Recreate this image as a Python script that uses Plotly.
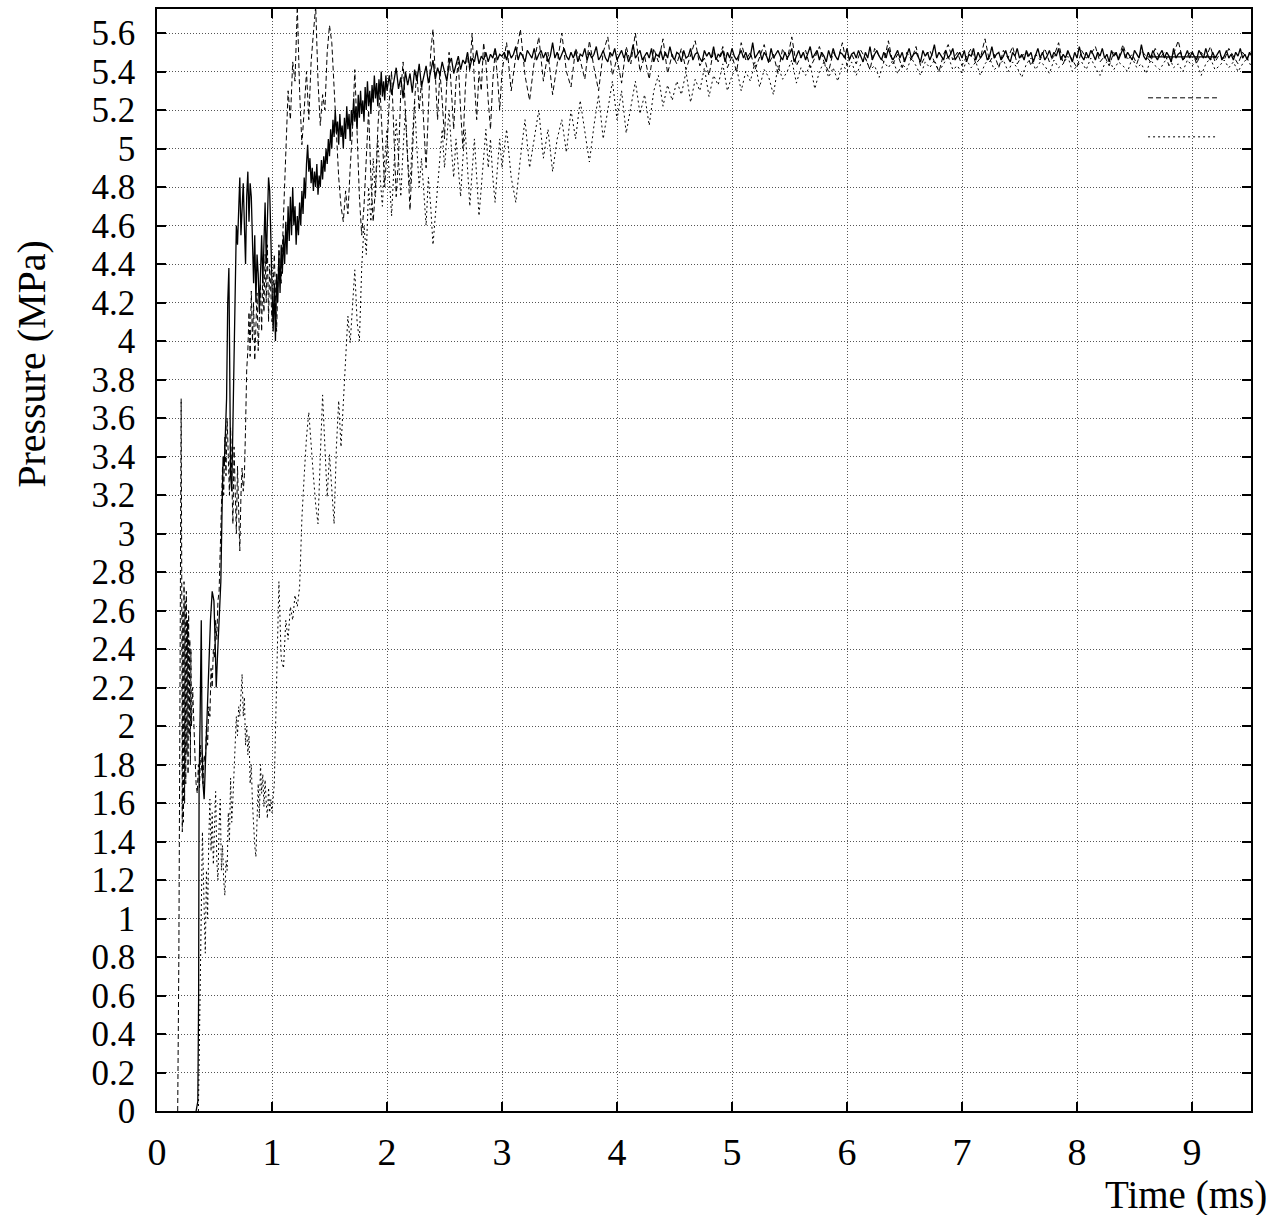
import numpy as np
import plotly.graph_objects as go

# ---------------- data (time in ms, pressure in MPa) ----------------
solid_t_early = [0.34, 0.355, 0.362, 0.366, 0.375, 0.385, 0.392, 0.40, 0.41, 0.42, 0.435, 0.45, 0.465,
                 0.48, 0.495, 0.505, 0.515, 0.525, 0.54, 0.555, 0.565, 0.575, 0.585, 0.595, 0.605,
                 0.615, 0.625, 0.632, 0.64, 0.65, 0.66, 0.67, 0.68, 0.69]
solid_p_early = [0.00, 0.05, 0.60, 1.70, 2.05, 2.55, 1.90, 1.70, 1.62, 1.80, 2.00, 2.25, 2.55,
                 2.70, 2.65, 2.45, 2.20, 2.35, 2.60, 2.75, 3.10, 3.40, 3.35, 3.55, 3.70,
                 4.20, 4.38, 3.90, 3.30, 3.22, 3.60, 4.05, 4.35, 4.60]
# 0.70 .. 1.99 every 0.01 ms
solid_p_mid1 = [4.50, 4.72, 4.85, 4.55, 4.70, 4.82, 4.60, 4.40, 4.75, 4.88,
                4.62, 4.82, 4.75, 4.45, 4.30, 4.55, 4.20, 4.45, 4.35, 4.15,
                4.40, 4.55, 4.30, 4.50, 4.72, 4.40, 4.62, 4.85, 4.78, 4.55,
                4.20, 4.05, 4.30, 4.00, 4.35, 4.20, 4.45, 4.25, 4.50, 4.35,
                4.55, 4.40, 4.62, 4.45, 4.70, 4.52, 4.75, 4.55, 4.80, 4.60,
                4.70, 4.50, 4.65, 4.55, 4.72, 4.60, 4.78, 4.66, 4.85, 4.74,
                4.92, 5.02, 4.88, 4.95, 4.82, 4.90, 4.78, 4.88, 4.80, 4.92,
                4.76, 4.86, 4.80, 4.94, 4.84, 4.96, 4.88, 5.00, 4.92, 5.05,
                4.96, 5.10, 5.00, 5.15, 5.06, 5.20, 5.08, 5.14, 5.02, 5.18,
                5.06, 5.12, 5.00, 5.16, 5.05, 5.22, 5.10, 5.18, 5.04, 5.20,
                5.12, 5.26, 5.14, 5.22, 5.10, 5.28, 5.16, 5.30, 5.18, 5.25,
                5.14, 5.32, 5.20, 5.35, 5.22, 5.30, 5.18, 5.33, 5.24, 5.38,
                5.26, 5.34, 5.22, 5.36, 5.28, 5.40, 5.27, 5.35, 5.25, 5.38]
# 2.00 .. 2.98 every 0.02 ms
solid_p_mid2 = [5.30, 5.38, 5.28, 5.36, 5.42, 5.31, 5.37, 5.26, 5.40, 5.33,
                5.39, 5.29, 5.41, 5.35, 5.44, 5.32, 5.38, 5.43, 5.34, 5.40,
                5.46, 5.36, 5.42, 5.38, 5.45, 5.40, 5.35, 5.44, 5.47, 5.39,
                5.43, 5.48, 5.41, 5.46, 5.44, 5.50, 5.42, 5.47, 5.45, 5.51,
                5.44, 5.48, 5.46, 5.50, 5.45, 5.49, 5.47, 5.52, 5.46, 5.49]
# 3.00 .. every 0.02 ms
solid_p_late = [5.48, 5.50, 5.46, 5.51, 5.47, 5.49, 5.53, 5.46, 5.50, 5.48, 5.45, 5.51, 5.49, 5.47, 5.52,
                5.46, 5.49, 5.51, 5.47, 5.50, 5.45, 5.48, 5.55, 5.47, 5.50, 5.46, 5.49, 5.52, 5.48, 5.46,
                5.50, 5.47, 5.51, 5.45, 5.49, 5.48, 5.52, 5.46, 5.50, 5.47, 5.49, 5.53, 5.46, 5.48, 5.51,
                5.47, 5.45, 5.50, 5.48, 5.52, 5.46, 5.49, 5.51, 5.47, 5.50, 5.45, 5.48, 5.54, 5.47, 5.49,
                5.51, 5.46, 5.48, 5.50, 5.47, 5.52, 5.45, 5.49, 5.48, 5.51, 5.46, 5.50, 5.47, 5.53, 5.48,
                5.46, 5.50, 5.49, 5.45, 5.51, 5.47, 5.48, 5.52, 5.46, 5.49, 5.50, 5.47, 5.45, 5.51, 5.48,
                5.50, 5.47, 5.53, 5.46, 5.49, 5.48, 5.51, 5.45, 5.50, 5.47, 5.52, 5.48, 5.46, 5.49, 5.51,
                5.47, 5.50, 5.46, 5.48, 5.55, 5.47, 5.49, 5.51, 5.46, 5.50, 5.48, 5.45, 5.52, 5.47, 5.49,
                5.51, 5.48, 5.46, 5.50, 5.47, 5.49, 5.52, 5.45, 5.48, 5.51, 5.47, 5.50, 5.46, 5.49, 5.53,
                5.47, 5.49, 5.51, 5.46, 5.50, 5.48, 5.45, 5.51, 5.47, 5.52, 5.48, 5.46, 5.50, 5.49, 5.47,
                5.52, 5.46, 5.49, 5.50, 5.47, 5.51, 5.48, 5.45, 5.50, 5.47, 5.53, 5.46, 5.49, 5.51, 5.48,
                5.46, 5.50, 5.47, 5.52, 5.48, 5.46, 5.49, 5.51, 5.47, 5.50, 5.45, 5.48, 5.52, 5.47, 5.49,
                5.50, 5.47, 5.45, 5.51, 5.48, 5.50, 5.46, 5.49, 5.54, 5.47, 5.50, 5.48, 5.46, 5.51, 5.47,
                5.49, 5.52, 5.46, 5.48, 5.50, 5.47, 5.51, 5.45, 5.49, 5.48, 5.52, 5.46, 5.50, 5.47, 5.49,
                5.51, 5.46, 5.48, 5.53, 5.47, 5.49, 5.50, 5.46, 5.48, 5.51, 5.47, 5.45, 5.50, 5.48, 5.52,
                5.47, 5.49, 5.46, 5.51, 5.48, 5.50, 5.45, 5.49, 5.52, 5.47, 5.50, 5.46, 5.48, 5.51, 5.47,
                5.50, 5.48, 5.52, 5.46, 5.49, 5.47, 5.51, 5.48, 5.45, 5.50, 5.47, 5.53, 5.48, 5.46, 5.50,
                5.47, 5.51, 5.49, 5.46, 5.50, 5.48, 5.52, 5.47, 5.49, 5.45, 5.51, 5.48, 5.50, 5.46, 5.49,
                5.52, 5.47, 5.50, 5.48, 5.46, 5.51, 5.49, 5.47, 5.54, 5.48, 5.46, 5.50, 5.47, 5.51, 5.48,
                5.46, 5.49, 5.51, 5.47, 5.50, 5.48, 5.45, 5.52, 5.47, 5.49, 5.50, 5.46, 5.48, 5.51, 5.47,
                5.50, 5.48, 5.46, 5.51, 5.49, 5.47, 5.52, 5.48, 5.46, 5.50, 5.47, 5.49, 5.51, 5.46, 5.48,
                5.51, 5.47, 5.49, 5.46, 5.50, 5.48, 5.52, 5.47, 5.49, 5.46, 5.50, 5.48, 5.47, 5.51, 5.49]

dashed_t_early = [0.18, 0.19, 0.20, 0.21, 0.215, 0.22, 0.225, 0.23, 0.235, 0.24, 0.245, 0.25, 0.255,
                  0.26, 0.265, 0.27, 0.275, 0.28, 0.285, 0.29, 0.295]
dashed_p_early = [0.00, 0.80, 2.20, 3.70, 2.80, 1.45, 2.60, 1.50, 2.75, 1.60, 2.65, 1.70, 2.70,
                  1.85, 2.55, 1.75, 2.60, 1.95, 2.45, 1.80, 2.40]
# 0.30 .. 0.99 every 0.01 ms
dashed_p_mid1 = [2.00, 2.20, 1.96, 1.85, 1.70, 1.65, 1.80, 1.68, 1.90, 1.75,
                 1.70, 1.85, 1.80, 2.00, 1.90, 2.10, 2.05, 2.30, 2.20, 2.40,
                 2.35, 2.55, 2.45, 2.65, 2.70, 2.90, 3.10, 3.35, 3.20, 3.50,
                 3.30, 3.60, 3.40, 3.20, 3.55, 3.30, 3.05, 3.45, 3.25, 3.00,
                 3.35, 3.10, 2.91, 3.20, 3.34, 3.22, 3.30, 3.55, 3.85, 3.95,
                 4.15, 3.92, 4.26, 4.00, 4.20, 3.90, 4.10, 4.25, 3.95, 4.15,
                 4.30, 4.05, 4.35, 4.15, 4.45, 4.20, 4.50, 4.10, 4.40, 4.25]
# 1.00 .. 2.98 every 0.02 ms
dashed_p_mid2 = [4.10, 4.45, 4.05, 4.50, 4.30, 4.65, 4.95, 5.30, 5.15, 5.45,
                 5.35, 5.74, 5.30, 5.02, 5.20, 5.40, 5.15, 5.45, 5.60, 5.74,
                 5.35, 5.12, 5.28, 5.20, 5.50, 5.64, 5.55, 5.30, 5.05, 4.85,
                 4.70, 4.62, 4.78, 4.66, 4.90, 5.10, 5.41, 5.05, 4.75, 4.55,
                 4.70, 4.95, 5.20, 4.85, 4.62, 4.80, 5.10, 5.30, 5.05, 4.80,
                 5.00, 5.25, 5.40, 5.10, 4.75, 4.95, 5.30, 5.45, 5.20, 4.90,
                 4.68, 4.95, 5.25, 5.40, 5.20, 5.35, 5.10, 4.90, 5.20, 5.50,
                 5.62, 5.35, 5.15, 5.40, 5.25, 5.05, 5.35, 5.50, 5.30, 5.10,
                 5.35, 5.45, 5.20, 5.00, 5.30, 5.50, 5.40, 5.60, 5.35, 5.15,
                 5.40, 5.30, 5.55, 5.45, 5.25, 5.10, 5.35, 5.50, 5.38, 5.20]
# 3.00 .. every 0.04 ms
dashed_p_late = [5.40, 5.55, 5.30, 5.48, 5.62, 5.38, 5.25, 5.45, 5.58, 5.35,
                 5.50, 5.28, 5.44, 5.60, 5.40, 5.32, 5.52, 5.46, 5.36, 5.56,
                 5.42, 5.30, 5.50, 5.58, 5.38, 5.47, 5.34, 5.53, 5.44, 5.60,
                 5.40, 5.48, 5.36, 5.52, 5.45, 5.57, 5.39, 5.49,
                 5.44, 5.52, 5.41, 5.49, 5.56, 5.43, 5.47, 5.38, 5.51, 5.45,
                 5.53, 5.42, 5.48, 5.40, 5.55, 5.46, 5.50, 5.41, 5.47, 5.54,
                 5.44, 5.49, 5.39, 5.52, 5.46, 5.58, 5.43, 5.48, 5.51, 5.42,
                 5.47, 5.53, 5.45, 5.40, 5.50, 5.46, 5.55, 5.43, 5.49, 5.44,
                 5.51, 5.47, 5.41, 5.52, 5.48, 5.45, 5.56, 5.44, 5.49, 5.42,
                 5.50, 5.46, 5.53, 5.43, 5.48, 5.51, 5.45, 5.40, 5.49, 5.54,
                 5.46, 5.50, 5.43, 5.48, 5.52, 5.44, 5.47, 5.57, 5.45, 5.49,
                 5.42, 5.51, 5.47, 5.53, 5.44, 5.48, 5.50, 5.43, 5.49, 5.46,
                 5.52, 5.45, 5.48, 5.55, 5.44, 5.50, 5.46, 5.42, 5.51, 5.47,
                 5.49, 5.53, 5.45, 5.48, 5.43, 5.50, 5.47, 5.54, 5.46, 5.49,
                 5.44, 5.51, 5.48, 5.45, 5.52, 5.47, 5.50, 5.43, 5.49, 5.56,
                 5.46, 5.48, 5.51, 5.44, 5.50, 5.47, 5.53, 5.45, 5.49, 5.46,
                 5.52, 5.48, 5.44, 5.50, 5.47, 5.51, 5.45, 5.49]

dotted_t_early = [0.36, 0.38, 0.395, 0.41]
dotted_p_early = [0.00, 0.90, 1.45, 1.05]
# 0.42 .. 0.99 every 0.01 ms
dotted_p_mid1 = [0.82, 1.25, 1.00, 1.40, 1.62, 1.35, 1.55, 1.28, 1.45, 1.66,
                 1.30, 1.20, 1.48, 1.62, 1.25, 1.38, 1.20, 1.12, 1.30, 1.25,
                 1.55, 1.40, 1.73, 1.50, 1.62, 1.80, 1.98, 2.05, 1.95, 2.10,
                 2.05, 2.20, 2.27, 2.05, 2.15, 1.90, 2.00, 1.85, 1.95, 1.70,
                 1.80, 1.60, 1.45, 1.38, 1.32, 1.55, 1.70, 1.52, 1.80, 1.65,
                 1.75, 1.58, 1.72, 1.60, 1.52, 1.68, 1.55, 1.62]
# 1.00 .. 2.98 every 0.02 ms
dotted_p_mid2 = [1.55, 1.70, 2.20, 2.75, 2.35, 2.30, 2.55, 2.45, 2.62, 2.55,
                 2.68, 2.62, 2.72, 3.08, 3.30, 3.50, 3.63, 3.45, 3.30, 3.15,
                 3.05, 3.40, 3.72, 3.45, 3.19, 3.41, 3.25, 3.05, 3.45, 3.69,
                 3.45, 3.70, 3.93, 4.13, 3.99, 4.20, 4.37, 4.10, 4.00, 4.38,
                 4.60, 4.45, 4.80, 4.62, 4.95, 4.75, 5.05, 4.85, 4.70, 4.95,
                 5.10, 4.85, 4.65, 4.90, 5.15, 4.95, 4.75, 5.00, 5.20, 4.95,
                 4.80, 5.05, 5.25, 5.00, 4.80, 4.95, 4.75, 4.60, 4.85, 4.70,
                 4.50, 4.65, 4.80, 4.95, 5.10, 4.90, 5.05, 5.20, 5.00, 4.85,
                 5.05, 4.90, 4.75, 4.95, 5.10, 4.90, 4.70, 4.88, 5.05, 4.85,
                 4.65, 4.80, 4.95, 5.10, 4.90, 5.05, 4.85, 4.72, 4.90, 5.05]
# 3.00 .. every 0.04 ms
dotted_p_late = [4.90, 5.10, 4.85, 4.72, 4.95, 5.15, 4.90, 5.05, 5.20, 4.95, 5.10, 4.88, 5.05,
                 5.15, 4.98, 5.20, 5.05, 5.25, 5.10, 4.93, 5.12, 5.28, 5.05, 5.20, 5.35,
                 5.15, 5.30, 5.08, 5.22, 5.35, 5.18, 5.28, 5.12, 5.30, 5.38, 5.22, 5.33, 5.25,
                 5.35, 5.28, 5.40, 5.24, 5.36, 5.30, 5.42, 5.27, 5.38, 5.33, 5.44, 5.30,
                 5.38, 5.42, 5.30, 5.40, 5.35, 5.45, 5.32, 5.41, 5.37, 5.28, 5.43, 5.36, 5.40,
                 5.46, 5.34, 5.42, 5.38, 5.44, 5.31, 5.40, 5.45, 5.37, 5.42, 5.35, 5.44,
                 5.40, 5.45, 5.38, 5.44, 5.47, 5.41, 5.43, 5.37, 5.45, 5.42,
                 5.46, 5.39, 5.44, 5.41, 5.47, 5.43, 5.38, 5.45, 5.42, 5.46,
                 5.40, 5.44, 5.48, 5.41, 5.43, 5.39, 5.46, 5.42, 5.45, 5.38,
                 5.44, 5.47, 5.41, 5.43, 5.46, 5.40, 5.45, 5.42, 5.37, 5.44,
                 5.47, 5.41, 5.45, 5.43, 5.39, 5.46, 5.42, 5.44, 5.48, 5.40,
                 5.43, 5.45, 5.41, 5.47, 5.42, 5.38, 5.44, 5.46, 5.41, 5.45,
                 5.43, 5.40, 5.47, 5.42, 5.44, 5.39, 5.46, 5.43, 5.41, 5.45,
                 5.48, 5.42, 5.44, 5.40, 5.46, 5.43, 5.45, 5.38, 5.44, 5.47,
                 5.41, 5.43, 5.46, 5.42, 5.45, 5.40, 5.44, 5.47, 5.42, 5.45,
                 5.43]

x_tick_vals = [0, 1, 2, 3, 4, 5, 6, 7, 8, 9]
x_tick_text = ["0", "1", "2", "3", "4", "5", "6", "7", "8", "9"]
y_tick_vals = [0, 0.2, 0.4, 0.6, 0.8, 1, 1.2, 1.4, 1.6, 1.8, 2, 2.2, 2.4, 2.6, 2.8, 3,
               3.2, 3.4, 3.6, 3.8, 4, 4.2, 4.4, 4.6, 4.8, 5, 5.2, 5.4, 5.6]
y_tick_text = ["0", "0.2", "0.4", "0.6", "0.8", "1", "1.2", "1.4", "1.6", "1.8", "2", "2.2",
               "2.4", "2.6", "2.8", "3", "3.2", "3.4", "3.6", "3.8", "4", "4.2", "4.4", "4.6",
               "4.8", "5", "5.2", "5.4", "5.6"]
x_label = "Time (ms)"
y_label = "Pressure (MPa)"
x_range = [0, 9.513]
y_range = [0, 5.725]


def series(t_early, p_early, parts):
    t = list(t_early)
    p = list(p_early)
    for start, step, vals in parts:
        t += list(np.round(start + step * np.arange(len(vals)), 4))
        p += list(vals)
    return t, p


solid_t, solid_p = series(solid_t_early, solid_p_early,
                          [(0.70, 0.01, solid_p_mid1), (2.00, 0.02, solid_p_mid2), (3.00, 0.02, solid_p_late)])
dashed_t, dashed_p = series(dashed_t_early, dashed_p_early,
                            [(0.30, 0.01, dashed_p_mid1), (1.00, 0.02, dashed_p_mid2), (3.00, 0.04, dashed_p_late)])
dotted_t, dotted_p = series(dotted_t_early, dotted_p_early,
                            [(0.42, 0.01, dotted_p_mid1), (1.00, 0.02, dotted_p_mid2), (3.00, 0.04, dotted_p_late)])

FONT = "Liberation Serif, Times New Roman, serif"

fig = go.Figure()
fig.add_trace(go.Scatter(x=solid_t, y=solid_p, mode="lines", name="",
                         line=dict(color="black", width=1.3)))
fig.add_trace(go.Scatter(x=dashed_t, y=dashed_p, mode="lines", name="",
                         line=dict(color="black", width=1, dash="5px,3px")))
fig.add_trace(go.Scatter(x=dotted_t, y=dotted_p, mode="lines", name="",
                         line=dict(color="black", width=1, dash="2px,3px")))

axis_common = dict(
    showline=True, linecolor="black", linewidth=1.5, mirror="ticks",
    ticks="inside", ticklen=9, tickwidth=1.5, tickcolor="black",
    showgrid=True, gridcolor="#555555", gridwidth=1, griddash="1px,2px",
    zeroline=False,
)
fig.update_xaxes(range=x_range, tickvals=x_tick_vals, ticktext=x_tick_text,
                 ticklabelstandoff=7, tickfont=dict(family=FONT, size=38, color="black"), **axis_common)
fig.update_yaxes(range=y_range, tickvals=y_tick_vals, ticktext=y_tick_text,
                 ticklabelstandoff=13, tickfont=dict(family=FONT, size=35, color="black"), **axis_common)

# legend key samples (titles are empty in the original)
legend_shapes = []
for yk, dash, w in [(0.9565, "solid", 1.2), (0.9194, "5px,3px", 1), (0.884, "2px,3px", 1)]:
    legend_shapes.append(dict(type="line", xref="paper", yref="paper", x0=0.9059, x1=0.9689,
                              y0=yk, y1=yk, line=dict(color="black", width=w, dash=dash)))

fig.update_layout(
    width=1284, height=1215,
    margin=dict(l=157, r=33, t=7, b=104),
    plot_bgcolor="white", paper_bgcolor="white",
    showlegend=False,
    font=dict(family=FONT, size=38, color="black"),
    shapes=legend_shapes,
    annotations=[
        dict(text=x_label, xref="paper", yref="paper", x=1, y=0, xanchor="right", yanchor="middle",
             xshift=18, yshift=-84, showarrow=False, font=dict(family=FONT, size=39, color="black")),
        dict(text=y_label, xref="paper", yref="paper", x=0, y=0.678, xanchor="center", yanchor="middle",
             xshift=-125, textangle=-90, showarrow=False, font=dict(family=FONT, size=40, color="black")),
    ],
)

fig.write_html("out.html")
